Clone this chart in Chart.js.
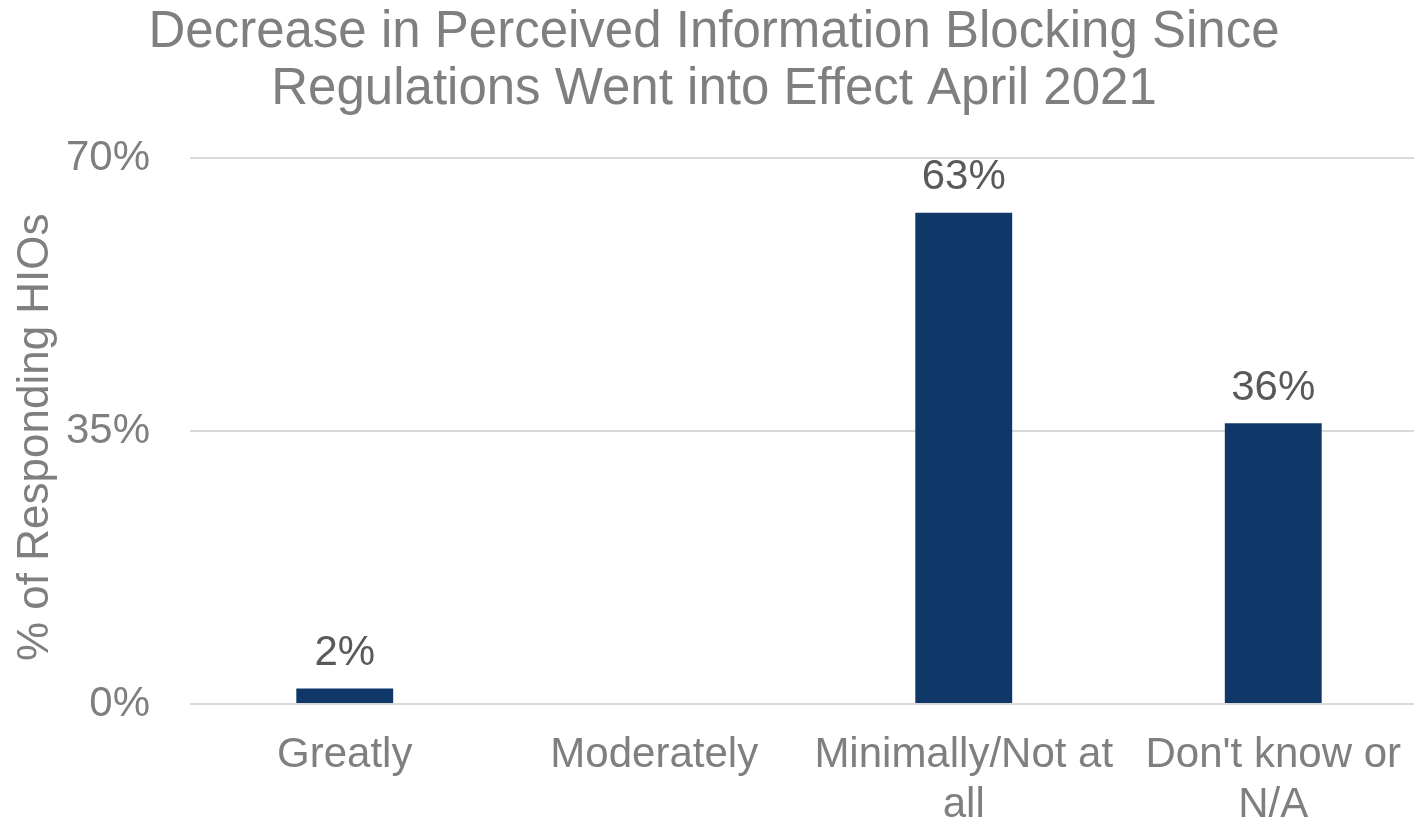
<!DOCTYPE html>
<html>
<head>
<meta charset="utf-8">
<script src="https://cdn.jsdelivr.net/npm/chart.js@4/dist/chart.umd.min.js"></script>
<style>
html,body{margin:0;padding:0;background:#fff;overflow:hidden;width:1414px;height:823px;}
#wrap{width:1428px;height:823px;position:relative;}
</style>
</head>
<body>
<div id="wrap"><canvas id="c" width="1428" height="823"></canvas></div>
<script>
const titleLines = ["Decrease in Perceived Information Blocking Since", "Regulations Went into Effect April 2021"];
const categories = [["Greatly"], ["Moderately"], ["Minimally/Not at", "all"], ["Don't know or", "N/A"]];
const values = [2, null, 63, 36];
const yTicks = [0, 35, 70];
const yAxisTitle = "% of Responding HIOs";

const FONT = "'Liberation Sans', Arial, sans-serif";

const labelPlugin = {
  id: 'barLabels',
  afterDatasetsDraw(chart) {
    const ctx = chart.ctx;
    const meta = chart.getDatasetMeta(0);
    ctx.save();
    ctx.font = "42px " + FONT;
    ctx.fillStyle = "#595959";
    ctx.textAlign = "center";
    ctx.textBaseline = "middle";
    meta.data.forEach((bar, i) => {
      const v = values[i];
      if (v === null || v === undefined) return;
      ctx.fillText(v + "%", bar.x, bar.y - 35);
    });
    ctx.restore();
  }
};

new Chart(document.getElementById('c'), {
  type: 'bar',
  data: {
    labels: categories,
    datasets: [{
      data: values,
      backgroundColor: '#0F3868',
      barPercentage: 0.313,
      categoryPercentage: 1.0
    }]
  },
  options: {
    responsive: false,
    animation: false,
    devicePixelRatio: 1,
    layout: { padding: { left: 0, right: 0, top: 0, bottom: 0 } },
    plugins: {
      legend: { display: false },
      tooltip: { enabled: false },
      title: {
        display: true,
        text: titleLines,
        color: '#7F7F7F',
        font: { family: FONT, size: 51, weight: 'normal', lineHeight: 1.12 },
        padding: { top: 4, bottom: 40 }
      }
    },
    scales: {
      x: {
        grid: { display: false, drawTicks: false },
        border: { display: false },
        ticks: {
          color: '#7F7F7F',
          font: { family: FONT, size: 42, lineHeight: 1.19 },
          padding: 26,
          maxRotation: 0,
          autoSkip: false
        },
        afterFit(scale) { scale.height = 119; }
      },
      y: {
        min: 0,
        max: 70,
        afterBuildTicks(scale) { scale.ticks = yTicks.map(v => ({ value: v })); },
        grid: { color: '#D9D9D9', lineWidth: 2, drawTicks: false },
        border: { display: false },
        ticks: {
          color: '#7F7F7F',
          font: { family: FONT, size: 42 },
          padding: 40,
          callback: v => v + '%'
        },
        title: {
          display: true,
          text: yAxisTitle + "\u00A0",
          color: '#7F7F7F',
          font: { family: FONT, size: 44, lineHeight: 1.2 },
          padding: { top: 9, bottom: 0 }
        },
        afterFit(scale) { scale.width = 190; }
      }
    }
  },
  plugins: [labelPlugin]
});
</script>
</body>
</html>
